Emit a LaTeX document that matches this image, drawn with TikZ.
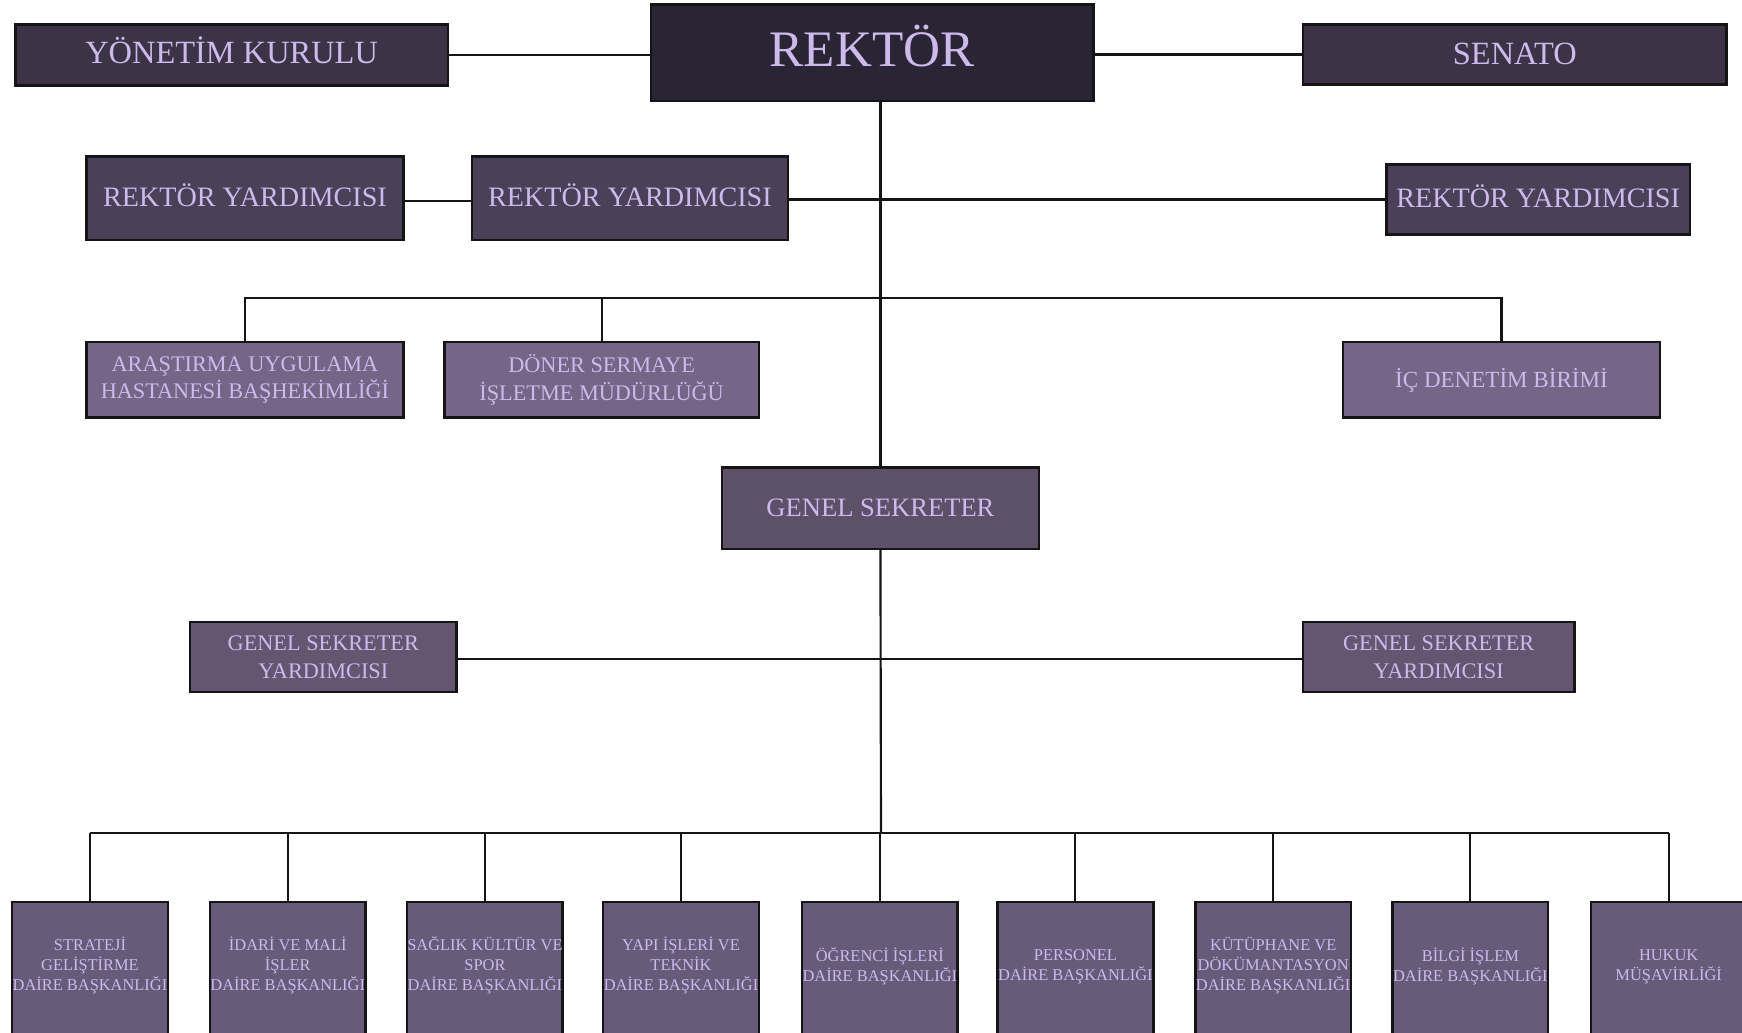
\documentclass[tikz,border=0pt]{standalone}
\usepackage{fontspec}
\setmainfont{Liberation Serif}
\definecolor{txt}{HTML}{CDB9EC}
\definecolor{cRek}{HTML}{2A2535}
\definecolor{cTop}{HTML}{3C3446}
\definecolor{cRY}{HTML}{4A4058}
\definecolor{cMid}{HTML}{756587}
\definecolor{cGS}{HTML}{5D5069}
\definecolor{cGSY}{HTML}{645670}
\definecolor{cBot}{HTML}{675B7A}
\definecolor{edge}{HTML}{151515}
\tikzset{
  box/.style={draw=edge, line width=0.65pt, rectangle, inner sep=0pt, text=txt, align=center},
  conn/.style={draw=edge, line width=0.55pt},
  lbl/.style={text=txt, align=center, inner sep=0pt},
}
\newcommand{\fs}[2]{\fontsize{#1pt}{#2pt}\selectfont}
\begin{document}
\begin{tikzpicture}[x=0.01cm,y=-0.01cm]
\clip (0,0) rectangle (1568,929);
\fill[white] (0,0) rectangle (1568,929);
% top row
\node[box, fill=cTop, minimum width=3.89cm, minimum height=0.55cm, text depth=2.3pt, font=\fs{8.3}{10}] (YK) at (208.5,49.5) {YÖNETİM KURULU};
\node[box, fill=cRek, minimum width=3.98cm, minimum height=0.87cm, text depth=3.4pt, font=\fs{13.1}{15}] (REK) at (785,47.5) {REKTÖR};
\node[box, fill=cTop, minimum width=3.81cm, minimum height=0.54cm, text depth=0.6pt, font=\fs{8.3}{10}] (SEN) at (1363.5,49) {SENATO};
% rektor yardimcilari
\node[box, fill=cRY, minimum width=2.85cm, minimum height=0.75cm, text depth=1.7pt, font=\fs{7.2}{9}] (RY1) at (220.5,178.5) {REKTÖR YARDIMCISI};
\node[box, fill=cRY, minimum width=2.84cm, minimum height=0.75cm, text depth=1.7pt, font=\fs{7.2}{9}] (RY2) at (567,178.5) {REKTÖR YARDIMCISI};
\node[box, fill=cRY, minimum width=2.73cm, minimum height=0.63cm, text depth=1.7pt, font=\fs{7.2}{9}] (RY3) at (1384.5,179.5) {REKTÖR YARDIMCISI};
% middle units
\node[box, fill=cMid, minimum width=2.85cm, minimum height=0.68cm, font=\fs{5.7}{7.1}] (AR) at (220.5,342) {ARAŞTIRMA UYGULAMA\\HASTANESİ BAŞHEKİMLİĞİ};
\node[box, fill=cMid, minimum width=2.83cm, minimum height=0.68cm, font=\fs{5.7}{7.1}] (DON) at (541.5,342) {DÖNER SERMAYE\\İŞLETME MÜDÜRLÜĞÜ};
\node[box, fill=cMid, minimum width=2.85cm, minimum height=0.68cm, font=\fs{5.9}{7.1}] (IC) at (1351.5,342) {İÇ DENETİM BİRİMİ};
% genel sekreter
\node[box, fill=cGS, minimum width=2.85cm, minimum height=0.73cm, font=\fs{6.8}{8.5}] (GS) at (792.5,457.5) {GENEL SEKRETER};
\node[box, fill=cGSY, minimum width=2.40cm, minimum height=0.63cm, font=\fs{5.7}{7.1}] (GSY1) at (291,591.5) {GENEL SEKRETER\\YARDIMCISI};
\node[box, fill=cGSY, minimum width=2.44cm, minimum height=0.63cm, font=\fs{5.7}{7.1}] (GSY2) at (1295,591.5) {GENEL SEKRETER\\YARDIMCISI};
% bottom boxes
\foreach \n/\cx in {1/81,2/259,3/436.5,4/613,5/792,6/968,7/1146,8/1323.5,9/1502}{
  \node[box, fill=cBot, minimum width=1.40cm, minimum height=1.38cm] (B\n) at (\cx,881) {};
}
\tikzset{bl/.style={lbl, font=\fs{4.2}{5.1}}}
\node[bl] (T1) at (B1.center |- 0,869) {STRATEJİ\\GELİŞTİRME\\DAİRE BAŞKANLIĞI};
\node[bl] (T2) at (B2.center |- 0,869) {İDARİ VE MALİ\\İŞLER\\DAİRE BAŞKANLIĞI};
\node[bl] (T3) at (B3.center |- 0,869) {SAĞLIK KÜLTÜR VE\\SPOR\\DAİRE BAŞKANLIĞI};
\node[bl] (T4) at (B4.center |- 0,869) {YAPI İŞLERİ VE\\TEKNİK\\DAİRE BAŞKANLIĞI};
\node[bl] (T5) at (B5.center |- 0,870) {ÖĞRENCİ İŞLERİ\\DAİRE BAŞKANLIĞI};
\node[bl] (T6) at (B6.center |- 0,870) {PERSONEL\\DAİRE BAŞKANLIĞI};
\node[bl] (T7) at (B7.center |- 0,869) {KÜTÜPHANE VE\\DÖKÜMANTASYON\\DAİRE BAŞKANLIĞI};
\node[bl] (T8) at (B8.center |- 0,870) {BİLGİ İŞLEM\\DAİRE BAŞKANLIĞI};
\node[bl] (T9) at (B9.center |- 0,870) {HUKUK\\MÜŞAVİRLİĞİ};
% coordinates for buses
\coordinate (bus1) at (793,268);
\coordinate (bus2) at (793,750);
% connectors
\draw[conn] (YK.east) -- (YK.east -| REK.west);
\draw[conn] (REK.east |- SEN.west) -- (SEN.west);
\draw[conn] (GS.north |- REK.south) -- (GS.north);
\draw[conn] (GS.south) -- (bus2);
\draw[conn] (RY1.east |- 0,181) -- (RY2.west |- 0,181);
\draw[conn] (RY2.east |- RY3.west) -- (RY3.west);
\draw[conn] (AR.north) -- (AR.north |- bus1) -- (IC.north |- bus1) -- (IC.north);
\draw[conn] (DON.north) -- (DON.north |- bus1);
\draw[conn] (GSY1.east |- 0,593) -- (GSY2.west |- 0,593);
\draw[conn] (B1.north |- bus2) -- (B9.north |- bus2);
\foreach \n in {1,...,9}{\draw[conn] (B\n.north) -- (B\n.north |- bus2);}
\end{tikzpicture}
\end{document}
